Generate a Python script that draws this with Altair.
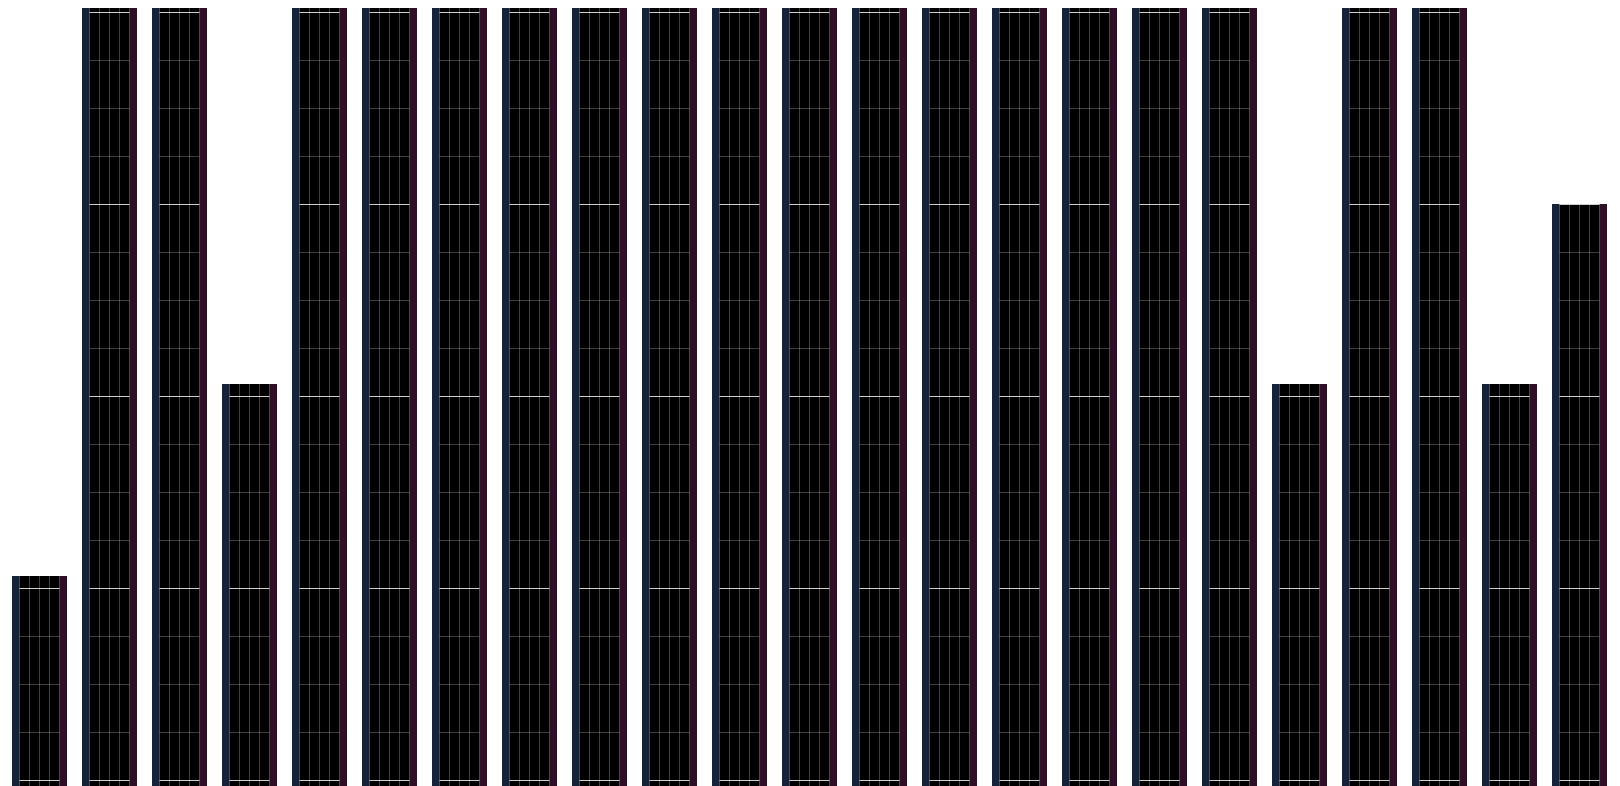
import altair as alt
import pandas as pd

# 23 categories, bar values (tall bars run past the top of the visible plot)
categories = [f"C{i:02d}" for i in range(1, 24)]
values = [33, 90, 90, 49, 90, 90, 90, 90, 90, 90, 90, 90, 90, 90, 90, 90, 90, 90, 49, 90, 90, 49, 64]

minor_ticks = [0, 4, 8, 12, 20, 24, 28, 36, 40, 44, 52, 56, 60, 68, 72, 76]
major_ticks = [0, 16, 32, 48, 64, 80]

bars = pd.DataFrame({"cat": categories, "val": values})
minor_df = pd.DataFrame({"t": minor_ticks})
major_df = pd.DataFrame({"t": major_ticks})

x_enc = alt.X("cat:N", sort=None, axis=None,
              scale=alt.Scale(paddingInner=15 / 70, paddingOuter=4 / 70))
y_scale = alt.Scale(domain=[0, 964 / 12], nice=False, zero=True)
y_enc = alt.Y("val:Q", axis=None, scale=y_scale)

base = alt.Chart(bars)

black = base.mark_bar(color="#000000", clip=True).encode(x=x_enc, y=y_enc)

minor = alt.Chart(minor_df).mark_rule(color="#ffffff", opacity=0.24, strokeWidth=1, yOffset=0.5).encode(
    y=alt.Y("t:Q", axis=None, scale=y_scale))
major = alt.Chart(major_df).mark_rule(color="#ffffff", opacity=0.8, strokeWidth=1, yOffset=0.5).encode(
    y=alt.Y("t:Q", axis=None, scale=y_scale))

left_strip = base.mark_bar(color="#14223a", width=7.5, xOffset=-23.75, clip=True).encode(x=x_enc, y=y_enc)
right_strip = base.mark_bar(color="#2e0f25", width=7.5, xOffset=23.75, clip=True).encode(x=x_enc, y=y_enc)

vlines = []
for off in [-20, -10, 0, 10, 20]:
    vlines.append(
        base.mark_rule(color="#ffffff", opacity=0.24, strokeWidth=1, xOffset=off, clip=True).encode(
            x=x_enc, y=y_enc, y2=alt.datum(0))
    )

chart = alt.layer(black, minor, major, left_strip, right_strip, *vlines).properties(
    width=1603, height=964, padding=0, autosize=alt.AutoSizeParams(type="none")
).configure_view(strokeWidth=0)

chart.save("out.html", embed_options={"renderer": "svg", "actions": False})
